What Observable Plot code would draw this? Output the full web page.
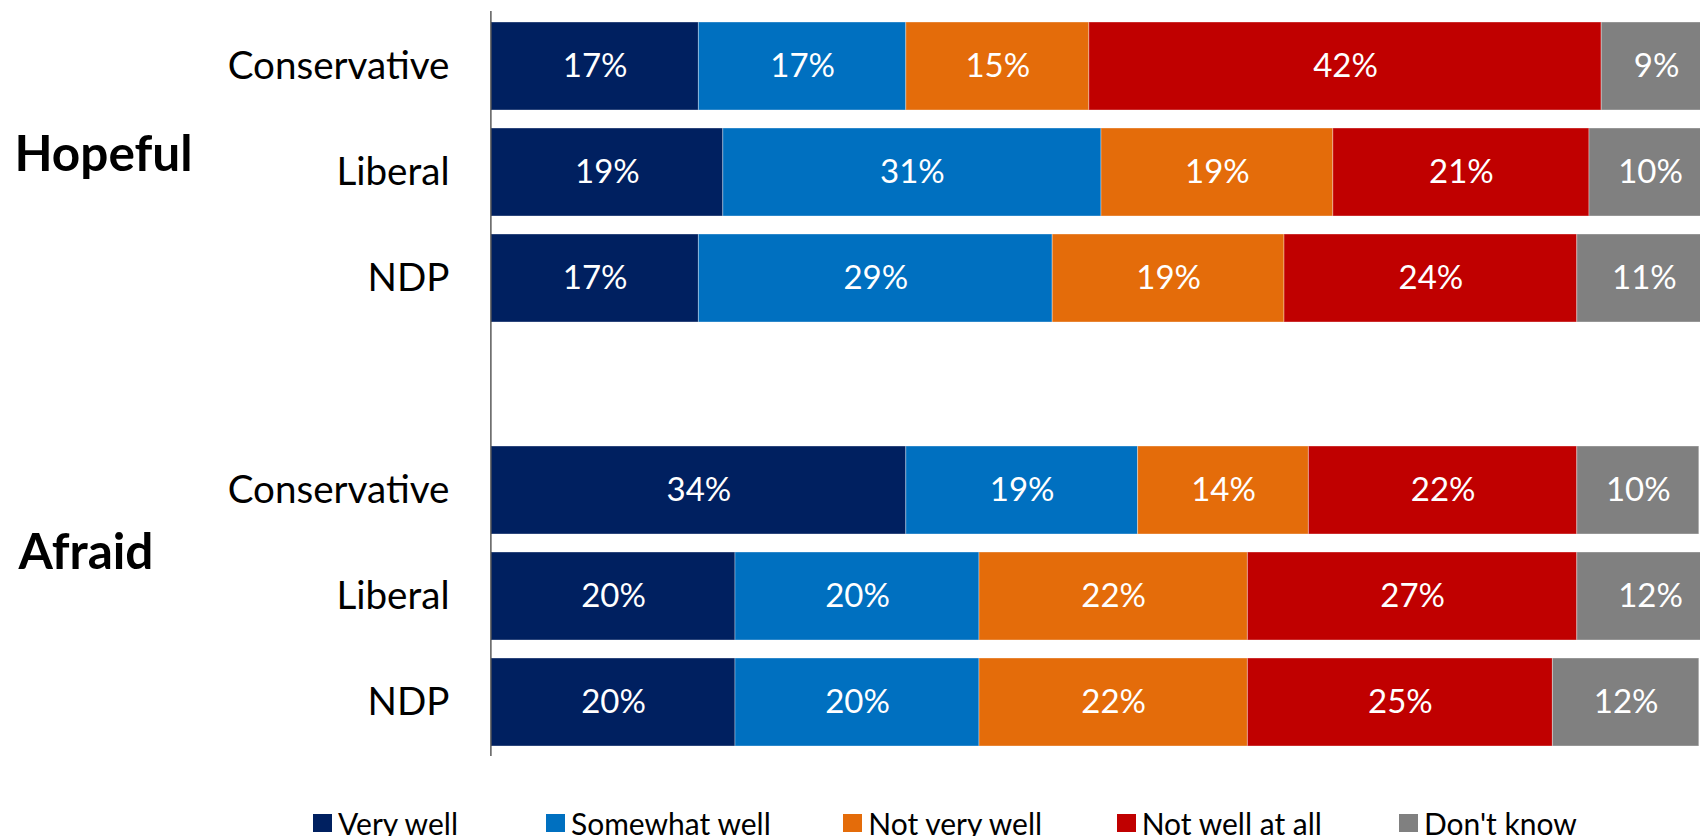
<!DOCTYPE html>
<html>
<head>
<meta charset="utf-8">
<script src="https://cdn.jsdelivr.net/npm/d3@7"></script>
<script src="https://cdn.jsdelivr.net/npm/@observablehq/plot@0.6"></script>
<style>
  html, body { margin: 0; padding: 0; background: white; overflow: hidden; }
  #wrap { position: relative; width: 1700px; height: 836px; overflow: hidden; background: white; font-family: Lato, sans-serif; }
  #legend { position: absolute; top: 808px; left: 313px; display: flex; font-size: 30px; line-height: 1; color: #000; }
  .item { display: flex; align-items: center; white-space: nowrap; }
  .sw { width: 19px; height: 18px; margin-right: 6px; display: inline-block; }
</style>
</head>
<body>
<div id="wrap">
  <div id="chart"></div>
  <div id="legend"></div>
</div>
<script>
// ---- data ----
const groups = ["Hopeful", "Afraid"];
const parties = ["Conservative", "Liberal", "NDP"];
const responses = ["Very well", "Somewhat well", "Not very well", "Not well at all", "Don't know"];
const colors = ["#002060", "#0070C0", "#E46C0A", "#C00000", "#808080"];
const hopefulValues = [
  [17, 17, 15, 42, 9],   // Conservative
  [19, 31, 19, 21, 10],  // Liberal
  [17, 29, 19, 24, 11]   // NDP
];
const afraidValues = [
  [34, 19, 14, 22, 10],  // Conservative
  [20, 20, 22, 27, 12],  // Liberal
  [20, 20, 22, 25, 12]   // NDP
];
const groupValues = {Hopeful: hopefulValues, Afraid: afraidValues};

// ---- build table ----
const rows = [];
for (const g of groups) {
  parties.forEach((p, i) => {
    responses.forEach((r, j) => {
      rows.push({key: `${g}|${p}`, group: g, party: p, response: r, value: groupValues[g][i][j]});
    });
  });
}
const yDomain = [
  ...parties.map(p => `Hopeful|${p}`),
  "gap",
  ...parties.map(p => `Afraid|${p}`)
];

const chart = Plot.plot({
  width: 1700,
  height: 790,
  marginLeft: 491,
  marginRight: -11,
  marginTop: 11,
  marginBottom: 34,
  style: {fontFamily: "Lato, sans-serif", background: "white", color: "black", overflow: "hidden"},
  x: {domain: [0, 100], axis: null},
  y: {domain: yDomain, paddingInner: 0.17, paddingOuter: 0.085, axis: null},
  color: {domain: responses, range: colors},
  marks: [
    Plot.barX(rows, Plot.stackX({x: "value", y: "key", fill: "response", stroke: "white", strokeWidth: 1, strokeOpacity: 0.35})),
    Plot.text(rows, Plot.stackX({x: "value", y: "key", text: d => `${d.value}%`, fill: "white", fontSize: 33})),
    Plot.axisY({tickSize: 0, tickPadding: 42, fontSize: 38.6, label: null, tickFormat: d => d.includes("|") ? d.split("|")[1] : ""}),
    Plot.ruleX([0], {stroke: "#404040", strokeWidth: 1.3, dx: -0.6}),
    Plot.text(["Hopeful"], {text: d => d, y: d => `${d}|Liberal`, frameAnchor: "left", textAnchor: "start", dx: -477, dy: -17, fontSize: 49.5, fontWeight: "bold", fill: "black"}),
    Plot.text(["Afraid"], {text: d => d, y: d => `${d}|Liberal`, frameAnchor: "left", textAnchor: "start", dx: -473, dy: -43, fontSize: 49.5, fontWeight: "bold", fill: "black"})
  ]
});
document.getElementById("chart").appendChild(chart);

// ---- legend ----
const legend = document.getElementById("legend");
const legendGaps = [88, 72.5, 74.5, 77, 0];
responses.forEach((r, i) => {
  const item = document.createElement("div");
  item.className = "item";
  item.style.marginRight = legendGaps[i] + "px";
  const sw = document.createElement("span");
  sw.className = "sw";
  sw.style.background = colors[i];
  const t = document.createElement("span");
  t.textContent = r;
  item.appendChild(sw);
  item.appendChild(t);
  legend.appendChild(item);
});
</script>
</body>
</html>
